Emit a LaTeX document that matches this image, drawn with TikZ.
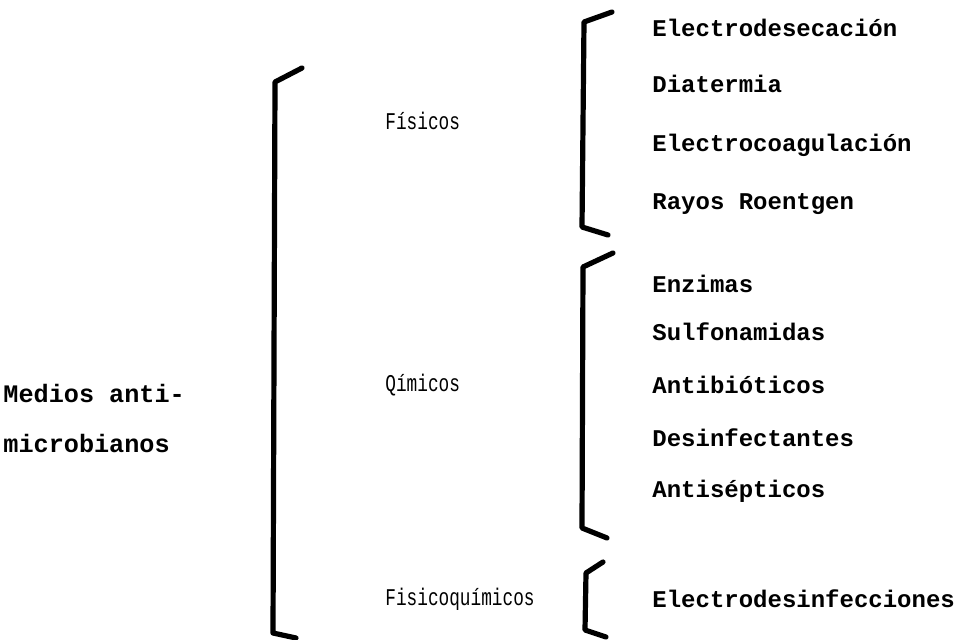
\documentclass[tikz,border=0pt]{standalone}
\usepackage{fontspec}
\setmonofont{Liberation Mono}
\usepackage{graphicx}
\usepackage{tikz}
\usetikzlibrary{positioning}

\newcommand{\narrow}[1]{\scalebox{0.74}[1]{#1}}

\tikzset{
  item/.style={anchor=west, inner sep=0pt, font=\ttfamily\bfseries\fontsize{12}{14}\selectfont},
  root/.style={item, font=\ttfamily\bfseries\fontsize{12.6}{14}\selectfont},
  group/.style={item, font=\ttfamily\fontsize{12}{14}\selectfont},
  bracket/.style={line width=2.6pt, line join=round, line cap=round}
}

\begin{document}
\begin{tikzpicture}[x=0.5pt, y=-0.5pt]
  \useasboundingbox (0,0) rectangle (959,640);

  % Root
  \node (medios) [root] at (3,393) {Medios anti-};
  \node (micro) [root] at (3,443) {microbianos};

  % Big bracket
  \draw[bracket] (302,68) -- (275,82) -- (273,633) -- (296,638);

  % Middle level
  \node (fisicos) [group] at (385,121) {\narrow{Físicos}};
  \node (quimicos) [group] at (385,385) {\narrow{Qímicos}};
  \node (fisicoq) [group] at (385,599) {\narrow{Fisicoquímicos}};

  % Brackets of the right level
  \draw[bracket] (612,12) -- (584,22) -- (582,227) -- (608,235);
  \draw[bracket] (613,253) -- (583,267) -- (582,528) -- (607,538);
  \draw[bracket] (603,562) -- (586,573) -- (585,630) -- (606,637);

  % Fisicos
  \node (desec) [item] at (652,28) {Electrodesecación};
  \node (diat) [item] at (652,84) {Diatermia};
  \node (coag) [item] at (652,145) {Electrocoagulación};
  \node (rayos) [item] at (652,204) {Rayos Roentgen};

  % Quimicos
  \node (enz) [item] at (652,284) {Enzimas};
  \node (sulf) [item] at (652,332) {Sulfonamidas};
  \node (antib) [item] at (652,385) {Antibióticos};
  \node (desinf) [item] at (652,438) {Desinfectantes};
  \node (antis) [item] at (652,491) {Antisépticos};

  % Fisicoquimicos
  \node (edesinf) [item] at (652,599) {Electrodesinfecciones};
\end{tikzpicture}
\end{document}
